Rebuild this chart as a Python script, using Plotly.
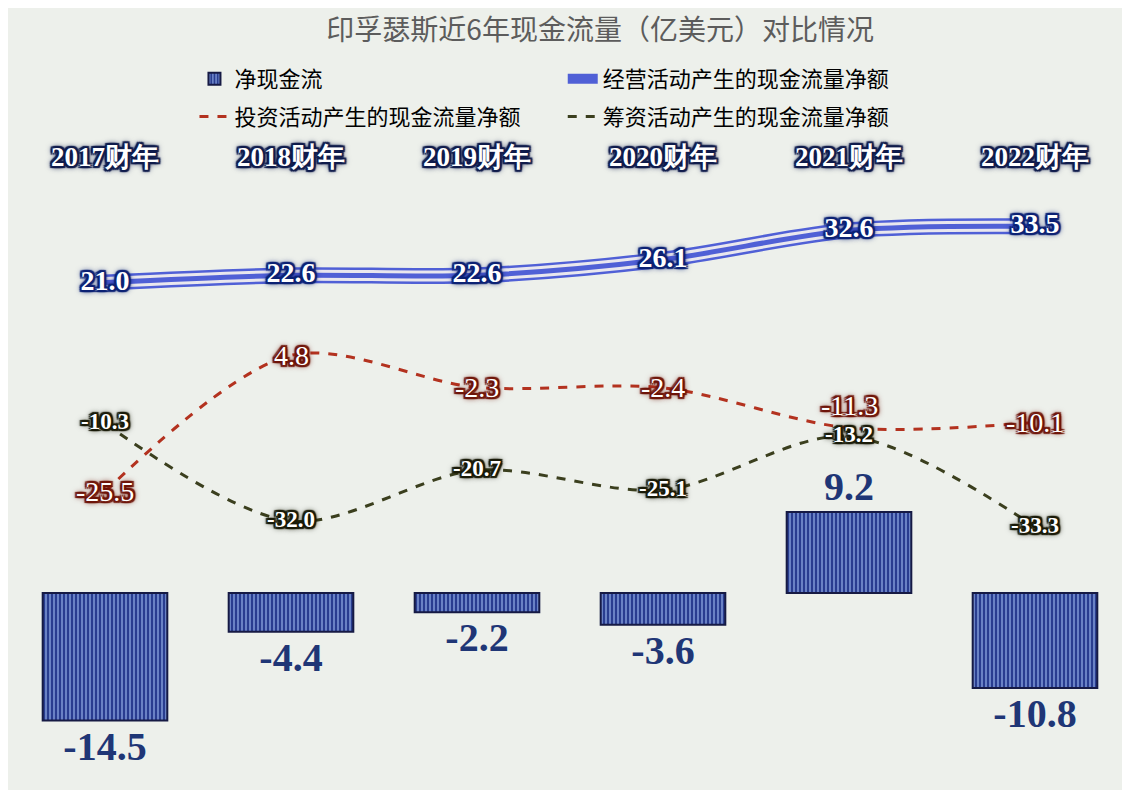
import plotly.graph_objects as go

# 印孚瑟斯 cash flow, 亿美元
years = ["2017财年", "2018财年", "2019财年", "2020财年", "2021财年", "2022财年"]
net_cash = [-14.5, -4.4, -2.2, -3.6, 9.2, -10.8]
operating = [21.0, 22.6, 22.6, 26.1, 32.6, 33.5]
investing = [-25.5, 4.8, -2.3, -2.4, -11.3, -10.1]
financing = [-10.3, -32.0, -20.7, -25.1, -13.2, -33.3]

serif = "Liberation Serif, Times New Roman, serif"
cjk = "Noto Sans CJK SC, sans-serif"


def glow(c):
    # heavy text-shadow so the labels look like excel's glow effect
    return (f"2px 2px 1px {c}, -2px -2px 1px {c}, 2px -2px 1px {c}, -2px 2px 1px {c}, "
            f"0 2px 1px {c}, 0 -2px 1px {c}, 2px 0 1px {c}, -2px 0 1px {c}, "
            f"0 0 5px {c}, 0 0 7px {c}")


fig = go.Figure()

# legend: two small vertical legends side by side (left column / right column)
fig.add_trace(go.Bar(
    x=years, y=net_cash, name="净现金流", legend="legend", legendgroup="a",
    marker=dict(
        color="#1d2f7c",
        line=dict(color="#161a44", width=2),
        pattern=dict(shape="|", fgcolor="#b2d0ff", bgcolor="#22358a",
                     size=4, solidity=0.55, fillmode="overlay"),
    ),
    texttemplate="%{y:.1f}", textposition="outside", cliponaxis=False,
    textfont=dict(family=serif, size=40, color="#1f3676", weight="bold"),
    yaxis="y",
))

# operating: compound line (blue / white / blue)
fig.add_trace(go.Scatter(
    x=years, y=operating, name="经营活动产生的现金流量净额", mode="lines",
    legend="legend2", legendgroup="b",
    line=dict(color="#5060d6", width=16, shape="spline", smoothing=0.9),
    yaxis="y2",
))
fig.add_trace(go.Scatter(
    x=years, y=operating, mode="lines", showlegend=False, hoverinfo="skip",
    line=dict(color="#e9e7ee", width=11, shape="spline", smoothing=0.9),
    yaxis="y2",
))
fig.add_trace(go.Scatter(
    x=years, y=operating, mode="lines", showlegend=False, hoverinfo="skip",
    line=dict(color="#5060d6", width=5, shape="spline", smoothing=0.9),
    yaxis="y2",
))

fig.add_trace(go.Scatter(
    x=years, y=investing, name="投资活动产生的现金流量净额", mode="lines",
    legend="legend", legendgroup="c",
    line=dict(color="#b3321f", width=3, dash="dash", shape="spline", smoothing=0.9),
    yaxis="y2",
))
fig.add_trace(go.Scatter(
    x=years, y=financing, name="筹资活动产生的现金流量净额", mode="lines",
    legend="legend2", legendgroup="d",
    line=dict(color="#3b3f1e", width=3, dash="dash", shape="spline", smoothing=0.9),
    yaxis="y2",
))

# data labels on top of everything
fig.add_trace(go.Scatter(
    x=years, y=operating, mode="text", showlegend=False, hoverinfo="skip",
    texttemplate="%{y:.1f}", textposition="middle center", cliponaxis=False,
    textfont=dict(family=serif, size=28, color="white", weight="bold",
                  shadow=glow("#0c2274")),
    yaxis="y2",
))
fig.add_trace(go.Scatter(
    x=years, y=financing, mode="text", showlegend=False, hoverinfo="skip",
    texttemplate="%{y:.1f}", textposition="middle center", cliponaxis=False,
    textfont=dict(family=serif, size=23, color="white", weight="bold",
                  shadow=glow("#191a08")),
    yaxis="y2",
))

# investing labels as annotations (the 2021 one sits above its point)
for i, (yr, v) in enumerate(zip(years, investing)):
    fig.add_annotation(
        x=yr, y=v, xref="x", yref="y2", text=f"{v:.1f}", showarrow=False,
        yshift=22 if i == 4 else 0,
        font=dict(family=serif, size=28, color="white", shadow=glow("#6e1409")),
    )

legend_style = dict(orientation="v", xanchor="left", y=1.186, yanchor="top",
                    font=dict(family=cjk, size=22, color="black"),
                    itemwidth=30, tracegroupgap=6, bgcolor="rgba(0,0,0,0)")

fig.update_layout(
    width=1130, height=790,
    margin=dict(l=4, r=10, t=164, b=13),
    paper_bgcolor="#edf0eb", plot_bgcolor="rgba(0,0,0,0)",
    bargap=0.33,
    title=dict(text="印孚瑟斯近6年现金流量（亿美元）对比情况",
               x=0.524, xanchor="center", y=0.972, yanchor="middle",
               font=dict(family=cjk, size=28, color="#5c5c5c")),
    legend=dict(x=0.1635, **legend_style),
    legend2=dict(x=0.4935, **legend_style),
    xaxis=dict(side="top", showgrid=False, zeroline=False, showline=False,
               ticks="", ticklabelstandoff=0,
               tickfont=dict(family=serif, size=27, color="white", weight="bold",
                             shadow=glow("#101c4c"))),
    yaxis=dict(range=[-21.82, 47.84], showgrid=False, zeroline=False,
               showticklabels=False, showline=False),
    yaxis2=dict(range=[-90.67, 45.56], overlaying="y", side="right",
                showgrid=False, zeroline=False, showticklabels=False, showline=False),
    showlegend=True,
)

fig.write_html("out.html")
